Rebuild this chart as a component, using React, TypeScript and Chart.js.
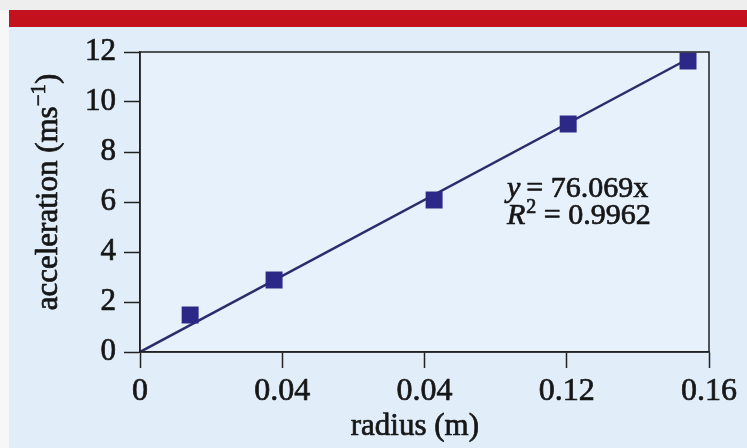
import React, { useEffect, useRef } from "react";
import { Chart, registerables } from "chart.js";

Chart.register(...registerables);

// ---- data ----
const radiusM = [0.0141, 0.0377, 0.0827, 0.1204, 0.1541];
const accelerationMs2 = [1.48, 2.88, 6.08, 9.12, 11.64];
const trendRadius = [0, 0.1541];
const trendAccel = [0, 11.72];
const xTickValues = [0, 0.04, 0.08, 0.12, 0.16];
const xTickLabels = ["0", "0.04", "0.04", "0.12", "0.16"];
const yTickValues = [0, 2, 4, 6, 8, 10, 12];
const eqSlope = "76.069x";
const eqR2 = "0.9962";
const xTitle = "radius (m)";
const yTitleMain = "acceleration (ms";
const yTitleSup = "\u22121";
const yTitleEnd = ")";

const FONT = "'Liberation Serif', 'Times New Roman', serif";
const TEXT = "#161616";
const AXIS = "#222222";
const STROKE = 0.7;

function txt(ctx: any, s: string, x: number, y: number) {
  ctx.strokeText(s, x, y);
  ctx.fillText(s, x, y);
}

const decorPlugin = {
  id: "decor",
  beforeDraw(chart: any) {
    const { ctx, chartArea: a } = chart;
    ctx.save();
    ctx.fillStyle = "#e6f1fc";
    ctx.fillRect(a.left, a.top, a.right - a.left, a.bottom - a.top);
    ctx.restore();
  },
  afterDraw(chart: any) {
    const { ctx, chartArea: a, scales } = chart;
    const xs = scales.x;
    const ys = scales.y;
    ctx.save();
    // frame
    ctx.strokeStyle = AXIS;
    ctx.lineWidth = 1.5;
    ctx.strokeRect(a.left, a.top, a.right - a.left, a.bottom - a.top);

    ctx.fillStyle = TEXT;
    ctx.strokeStyle = TEXT;
    ctx.lineWidth = STROKE;
    ctx.lineJoin = "round";
    ctx.textBaseline = "alphabetic";
    ctx.textAlign = "left";

    // equation annotation
    const ax = xs.getPixelForValue(0.1032);
    const b1 = ys.getPixelForValue(6.2);
    const b2 = ys.getPixelForValue(5.12);
    ctx.font = `italic 30px ${FONT}`;
    txt(ctx, "y", ax, b1);
    let w = ctx.measureText("y").width;
    ctx.font = `30px ${FONT}`;
    txt(ctx, "\u2009= " + eqSlope, ax + w, b1);

    ctx.font = `italic 30px ${FONT}`;
    txt(ctx, "R", ax, b2);
    w = ctx.measureText("R").width;
    ctx.font = `20px ${FONT}`;
    txt(ctx, "2", ax + w + 1, b2 - 11);
    const w2 = ctx.measureText("2").width;
    ctx.font = `30px ${FONT}`;
    txt(ctx, " = " + eqR2, ax + w + w2 + 1, b2);

    // x axis title
    ctx.font = `31px ${FONT}`;
    ctx.textAlign = "center";
    ctx.textBaseline = "middle";
    txt(ctx, xTitle, xs.getPixelForValue(0.0773), 427);

    // y axis title with superscript
    ctx.textAlign = "left";
    ctx.textBaseline = "alphabetic";
    ctx.font = `31px ${FONT}`;
    const wMain = ctx.measureText(yTitleMain).width;
    const wEnd = ctx.measureText(yTitleEnd).width;
    ctx.font = `21px ${FONT}`;
    const wSup = ctx.measureText(yTitleSup).width;
    const total = wMain + wSup + wEnd;
    const cx = a.left - 83; // baseline x
    const cy = ys.getPixelForValue(6.4);
    ctx.translate(cx, cy);
    ctx.rotate(-Math.PI / 2);
    let sx = -total / 2;
    ctx.font = `31px ${FONT}`;
    txt(ctx, yTitleMain, sx, 0);
    sx += wMain;
    ctx.font = `21px ${FONT}`;
    txt(ctx, yTitleSup, sx, -12);
    sx += wSup;
    ctx.font = `31px ${FONT}`;
    txt(ctx, yTitleEnd, sx, 0);
    ctx.restore();
  },
};

export default function App() {
  const ref = useRef<HTMLCanvasElement | null>(null);

  useEffect(() => {
    if (!ref.current) return;
    const chart = new Chart(ref.current, {
      type: "scatter",
      data: {
        datasets: [
          {
            label: "data",
            data: radiusM.map((x, i) => ({ x, y: accelerationMs2[i] })),
            pointStyle: "rect",
            pointRadius: 12,
            pointHoverRadius: 12,
            backgroundColor: "#2b2888",
            borderColor: "#2b2888",
            borderWidth: 0,
          },
          {
            label: "trend",
            data: trendRadius.map((x, i) => ({ x, y: trendAccel[i] })),
            showLine: true,
            pointRadius: 0,
            borderColor: "#2a2c6c",
            borderWidth: 2.5,
          },
        ],
      },
      options: {
        animation: false,
        responsive: false,
        layout: { padding: { left: 0, right: 38, top: 52, bottom: 0 } },
        plugins: { legend: { display: false }, tooltip: { enabled: false } },
        scales: {
          x: {
            type: "linear",
            min: 0,
            max: 0.16,
            afterBuildTicks: (s: any) => {
              s.ticks = xTickValues.map((v) => ({ value: v }));
            },
            afterFit: (s: any) => {
              s.height = 96;
            },
            ticks: {
              callback: (_v: any, i: number) => xTickLabels[i],
              font: { family: FONT, size: 32 },
              color: TEXT,
              textStrokeColor: TEXT,
              textStrokeWidth: STROKE,
              padding: 4,
              maxRotation: 0,
              autoSkip: false,
            },
            grid: {
              drawOnChartArea: false,
              drawTicks: true,
              tickLength: 16,
              tickColor: AXIS,
              tickWidth: 1.5,
            },
            border: { display: true, color: AXIS, width: 1.5 },
            title: { display: false },
          },
          y: {
            type: "linear",
            min: 0,
            max: 12,
            afterBuildTicks: (s: any) => {
              s.ticks = yTickValues.map((v) => ({ value: v }));
            },
            afterFit: (s: any) => {
              s.width = 140;
            },
            ticks: {
              font: { family: FONT, size: 31 },
              color: TEXT,
              textStrokeColor: TEXT,
              textStrokeWidth: STROKE,
              padding: 8,
            },
            grid: {
              drawOnChartArea: false,
              drawTicks: true,
              tickLength: 16,
              tickColor: AXIS,
              tickWidth: 1.5,
            },
            border: { display: true, color: AXIS, width: 1.5 },
          },
        },
      },
      plugins: [decorPlugin],
    } as any);
    return () => chart.destroy();
  }, []);

  return (
    <div
      style={{
        position: "absolute",
        left: 0,
        top: 0,
        width: 747,
        height: 448,
        background: "#f7f7f7",
        overflow: "hidden",
      }}
    >
      <div style={{ position: "absolute", left: 0, top: 0, width: 747, height: 10, background: "#eeeeee" }} />
      <div style={{ position: "absolute", left: 9, top: 10, width: 738, height: 17, background: "#c3121e" }} />
      <div style={{ position: "absolute", left: 9, top: 27, width: 738, height: 421, background: "#e1eefa" }} />
      <canvas
        ref={ref}
        width={747}
        height={448}
        style={{ position: "absolute", left: 0, top: 0, width: 747, height: 448 }}
      />
    </div>
  );
}
